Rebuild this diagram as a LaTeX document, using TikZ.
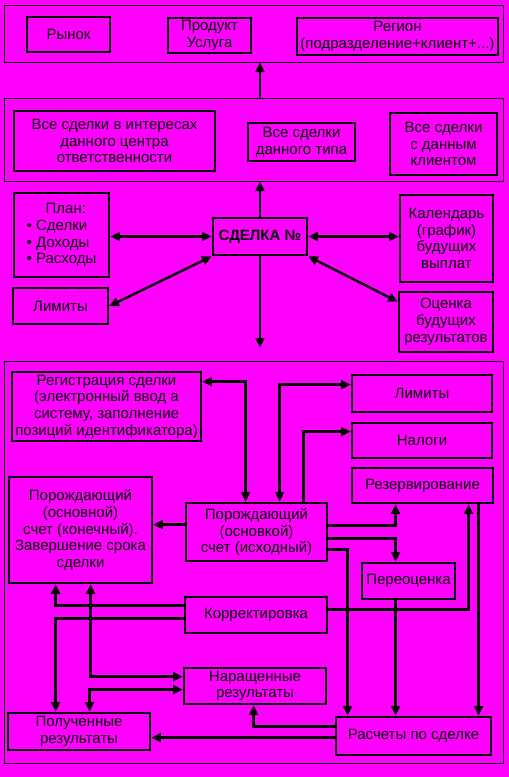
\documentclass[tikz,border=0pt]{standalone}
\usepackage{fontspec}
\setmainfont{Liberation Sans}
\usetikzlibrary{arrows.meta}
\definecolor{mag}{RGB}{255,0,255}
\newcommand\bx[7][]{\node[box,#1,minimum width={#4-#2},minimum height={#5-#3}] (#6) at ({(#2+#4)/2},{(#3+#5)/2}) {#7};}
\newcommand\fr[5]{\node[frm,minimum width={#4-#2},minimum height={#5-#3}] (#1) at ({(#2+#4)/2},{(#3+#5)/2}) {};}
\begin{document}
\begin{tikzpicture}[x=1pt,y=-1pt,
  box/.style={draw=black,line width=2.8pt,fill=mag,inner sep=0pt,align=center,font=\fontsize{15}{16.7}\selectfont},
  frm/.style={draw=black,line width=1pt,inner sep=0pt},
  arr/.style={line width=2.4pt,-{Triangle[length=9.5pt,width=9pt]}},
  dar/.style={line width=2.4pt,{Triangle[length=9.5pt,width=9pt]}-{Triangle[length=9.5pt,width=9pt]}}]
\fill[mag] (0,0) rectangle (509,777);
\useasboundingbox (0,0) rectangle (509,777);
% frames
\fr{f1}{4}{5}{503}{62}
\fr{f2}{4}{98}{503}{181}
\fr{f3}{4}{361}{503}{763}
% top
\bx{27}{17}{110}{52}{ryn}{Рынок}
\bx{168}{18}{251}{53}{prod}{Продукт\\Услуга}
\bx{297}{18}{498}{55}{regn}{Регион\\(подразделение+клиент+...)}
\bx{14}{111}{215}{171}{v1}{Все сделки в интересах\\данного центра\\ответственности}
\bx{248}{123}{355}{161}{v2}{Все сделки\\данного типа}
\bx{390}{113}{497}{175}{v3}{Все сделки\\с данным\\клиентом}
% middle
\bx[align=left]{14}{193}{109}{277}{plan}{\hspace*{19pt}План:\\• Сделки\\• Доходы\\• Расходы}
\bx{13}{288}{108}{324}{lim}{Лимиты}
\bx{213}{218}{307}{255}{sd}{\textbf{СДЕЛКА №}}
\bx{400}{195}{493}{282}{kal}{Календарь\\(график)\\будущих\\выплат}
\bx{399}{292}{493}{352}{ots}{Оценка\\будущих\\результатов}
% bottom
\bx{12}{372}{201}{441}{reg}{Регистрация сделки\\(электронный ввод а\\систему, заполнение\\позиций идентификатора)}
\bx{352}{375}{492}{412}{lim2}{Лимиты}
\bx{352}{423}{492}{458}{nal}{Налоги}
\bx{352}{468}{493}{503}{rez}{Резервирование}
\bx{9}{477}{152}{583}{pf}{Порождающий\\(основной)\\счет (конечный).\\Завершение срока\\сделки}
\bx{186}{503}{327}{561}{pi}{Порождающий\\(основкой)\\счет (исходный)}
\bx{362}{563}{455}{599}{per}{Переоценка}
\bx{185}{597}{327}{633}{kor}{Корректировка}
\bx{184}{668}{326}{704}{nar}{Наращенные\\результаты}
\bx{8}{713}{150}{750}{pol}{Полученные\\результаты}
\bx{336}{717}{491}{755}{ras}{Расчеты по сделке}
% top connectors
\draw[arr] (f2.north -| sd.north) -- (f1.south -| sd.north);
\draw[arr] (sd.north) -- (f2.south -| sd.north);
\coordinate (sdb) at (sd.south |- f3.north);
\draw[arr] (sd.south) -- ([yshift=13pt]sdb);
% middle connectors
\draw[dar] (plan.east |- sd.west) -- (sd.west);
\draw[dar] (sd.east) -- (kal.west |- sd.east);
\draw[dar] (lim.east) -- (sd.south west);
\coordinate (otsw) at ([yshift=-11pt]ots.north west);
\draw[dar] (sd.south east) -- (otsw);
% frame 3 connectors
\coordinate (c1) at ([yshift=-11pt]reg.north east);
\coordinate (c1b) at ([xshift=61pt]pi.north west);
\draw[dar] (c1) -| (c1b);
\coordinate (c2) at ([xshift=95pt]pi.north west);
\coordinate (c2b) at ([yshift=-11pt]lim2.north west);
\draw[dar] (c2) |- (c2b);
\coordinate (c3) at ([xshift=119pt]pi.north west);
\coordinate (c3b) at ([yshift=-10pt]nal.north west);
\draw[arr] (c3) |- (c3b);
\coordinate (c4) at ([yshift=-23pt]pi.north west);
\draw[arr] (c4) -- (c4 -| pf.east);
\coordinate (c5) at ([yshift=-24pt]pi.north east);
\coordinate (c5b) at ([xshift=45pt]rez.south west);
\draw[arr] (c5) -| (c5b);
\coordinate (c6) at ([yshift=-37pt]pi.north east);
\coordinate (c6b) at ([xshift=35pt]per.north west);
\draw[arr] (c6) -| (c6b);
\coordinate (c7) at ([yshift=-48pt]pi.north east);
\coordinate (c7b) at ([xshift=13pt]ras.north west);
\draw[arr] (c7) -| (c7b);
\draw[arr] (c6b |- per.south) -- (c6b |- ras.north);
\coordinate (c8) at ([yshift=-14pt]kor.north east);
\coordinate (c8b) at ([xshift=118pt]rez.south west);
\draw[arr] (c8) -| (c8b);
\coordinate (c9) at ([xshift=128pt]rez.south west);
\draw[arr] (c9) -- (c9 |- ras.north);
\coordinate (d1) at ([yshift=-10pt]kor.north west);
\coordinate (d1b) at ([xshift=48pt]pf.south west);
\draw[arr] (d1) -| (d1b);
\coordinate (d2) at ([yshift=-23pt]kor.north west);
\coordinate (d2b) at ([xshift=49pt]pol.north west);
\draw[arr] (d2) -| (d2b);
\coordinate (d3) at ([yshift=-10pt]nar.north west);
\coordinate (d3b) at ([xshift=83pt]pf.south west);
\draw[dar] (d3) -| (d3b);
\coordinate (d4) at ([yshift=-23pt]nar.north west);
\coordinate (d4b) at ([xshift=83pt]pol.north west);
\draw[dar] (d4) -| (d4b);
\coordinate (d5) at ([yshift=-11pt]ras.north west);
\coordinate (d5b) at ([xshift=71pt]nar.south west);
\draw[arr] (d5) -| (d5b);
\coordinate (d6) at ([yshift=-22pt]ras.north west);
\draw[arr] (d6) -- (d6 -| pol.east);
\end{tikzpicture}
\end{document}
